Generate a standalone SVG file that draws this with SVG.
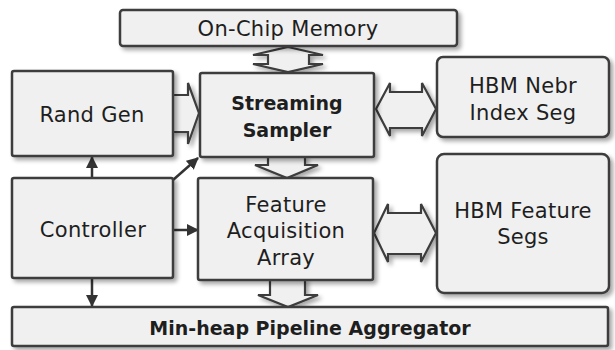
<svg xmlns="http://www.w3.org/2000/svg" width="615" height="350" viewBox="0 0 615 350">
<style>
.box{fill:#f0f0f0;stroke:#3d3d3d;stroke-width:2.5;filter:url(#sh)}
.blk{fill:#f0f0f0;stroke:#3d3d3d;stroke-width:2.2;stroke-linejoin:miter;filter:url(#sh)}
.ln{stroke:#333;stroke-width:2.5;fill:none}
text{font-family:"DejaVu Sans","Liberation Sans",sans-serif;font-size:21px;letter-spacing:0.3px;fill:#1e1e1e;text-anchor:middle}
.b{font-weight:bold;font-size:19px;letter-spacing:0}
</style>
<defs>
<filter id="sh" x="-10%" y="-10%" width="130%" height="140%">
<feDropShadow dx="3" dy="3" stdDeviation="2" flood-color="#000" flood-opacity="0.35"/>
</filter>
<marker id="ah" markerUnits="userSpaceOnUse" markerWidth="12" markerHeight="12" viewBox="0 0 12 12" refX="11" refY="6" orient="auto">
<path d="M0,0 L12,6 L0,12 z" fill="#333"/>
</marker>
</defs>
<g id="connectors">
<polygon class="blk" points="288,47 323,55 309,55 309,64 323,64 288,72 253,64 268,64 268,55 253,55"/>
<polygon class="blk" points="172,95 188,95 188,83 199,113 188,144 188,132 172,132"/>
<polygon class="blk" points="376,109 390,83 390,92 422,92 422,83 436,109 422,136 422,128 390,128 390,136"/>
<polygon class="blk" points="374,233 388,204 388,213 421,213 421,204 436,233 421,262 421,254 388,254 388,262"/>
<polygon class="blk" points="268,156 305,156 305,165 318,165 287,178 255,165 268,165"/>
<polygon class="blk" points="270,279 305,279 305,295 318,295 288,307 258,295 270,295"/>
<line class="ln" x1="92" y1="178" x2="92" y2="157" marker-end="url(#ah)"/>
<line class="ln" x1="173" y1="180" x2="198" y2="158" marker-end="url(#ah)"/>
<line class="ln" x1="173" y1="230" x2="198" y2="230" marker-end="url(#ah)"/>
<line class="ln" x1="92" y1="278" x2="92" y2="306" marker-end="url(#ah)"/>
</g>
<g id="onchip"><rect class="box" x="120" y="10" width="337" height="36" rx="3"/><text x="288" y="36">On-Chip Memory</text></g>
<g id="randgen"><rect class="box" x="12" y="71" width="161" height="85" rx="2"/><text x="92" y="122">Rand Gen</text></g>
<g id="sampler"><rect class="box" x="200" y="73" width="174" height="84" rx="2"/><text class="b" x="287" y="110">Streaming</text><text class="b" x="287" y="137">Sampler</text></g>
<g id="hbmnebr"><rect class="box" x="437" y="57" width="172" height="80" rx="6"/><text x="523" y="93">HBM Nebr</text><text x="523" y="120">Index Seg</text></g>
<g id="controller"><rect class="box" x="12" y="178" width="161" height="100" rx="2"/><text x="93" y="237">Controller</text></g>
<g id="feature"><rect class="box" x="198" y="178" width="175" height="102" rx="2"/><text x="286" y="212">Feature</text><text x="286" y="238">Acquisition</text><text x="286" y="265">Array</text></g>
<g id="hbmfeat"><rect class="box" x="437" y="154" width="172" height="139" rx="7"/><text x="523" y="218">HBM Feature</text><text x="523" y="244">Segs</text></g>
<g id="minheap"><rect class="box" x="12" y="307" width="596" height="39" rx="2"/><text class="b" x="310" y="335">Min-heap Pipeline Aggregator</text></g>
</svg>
